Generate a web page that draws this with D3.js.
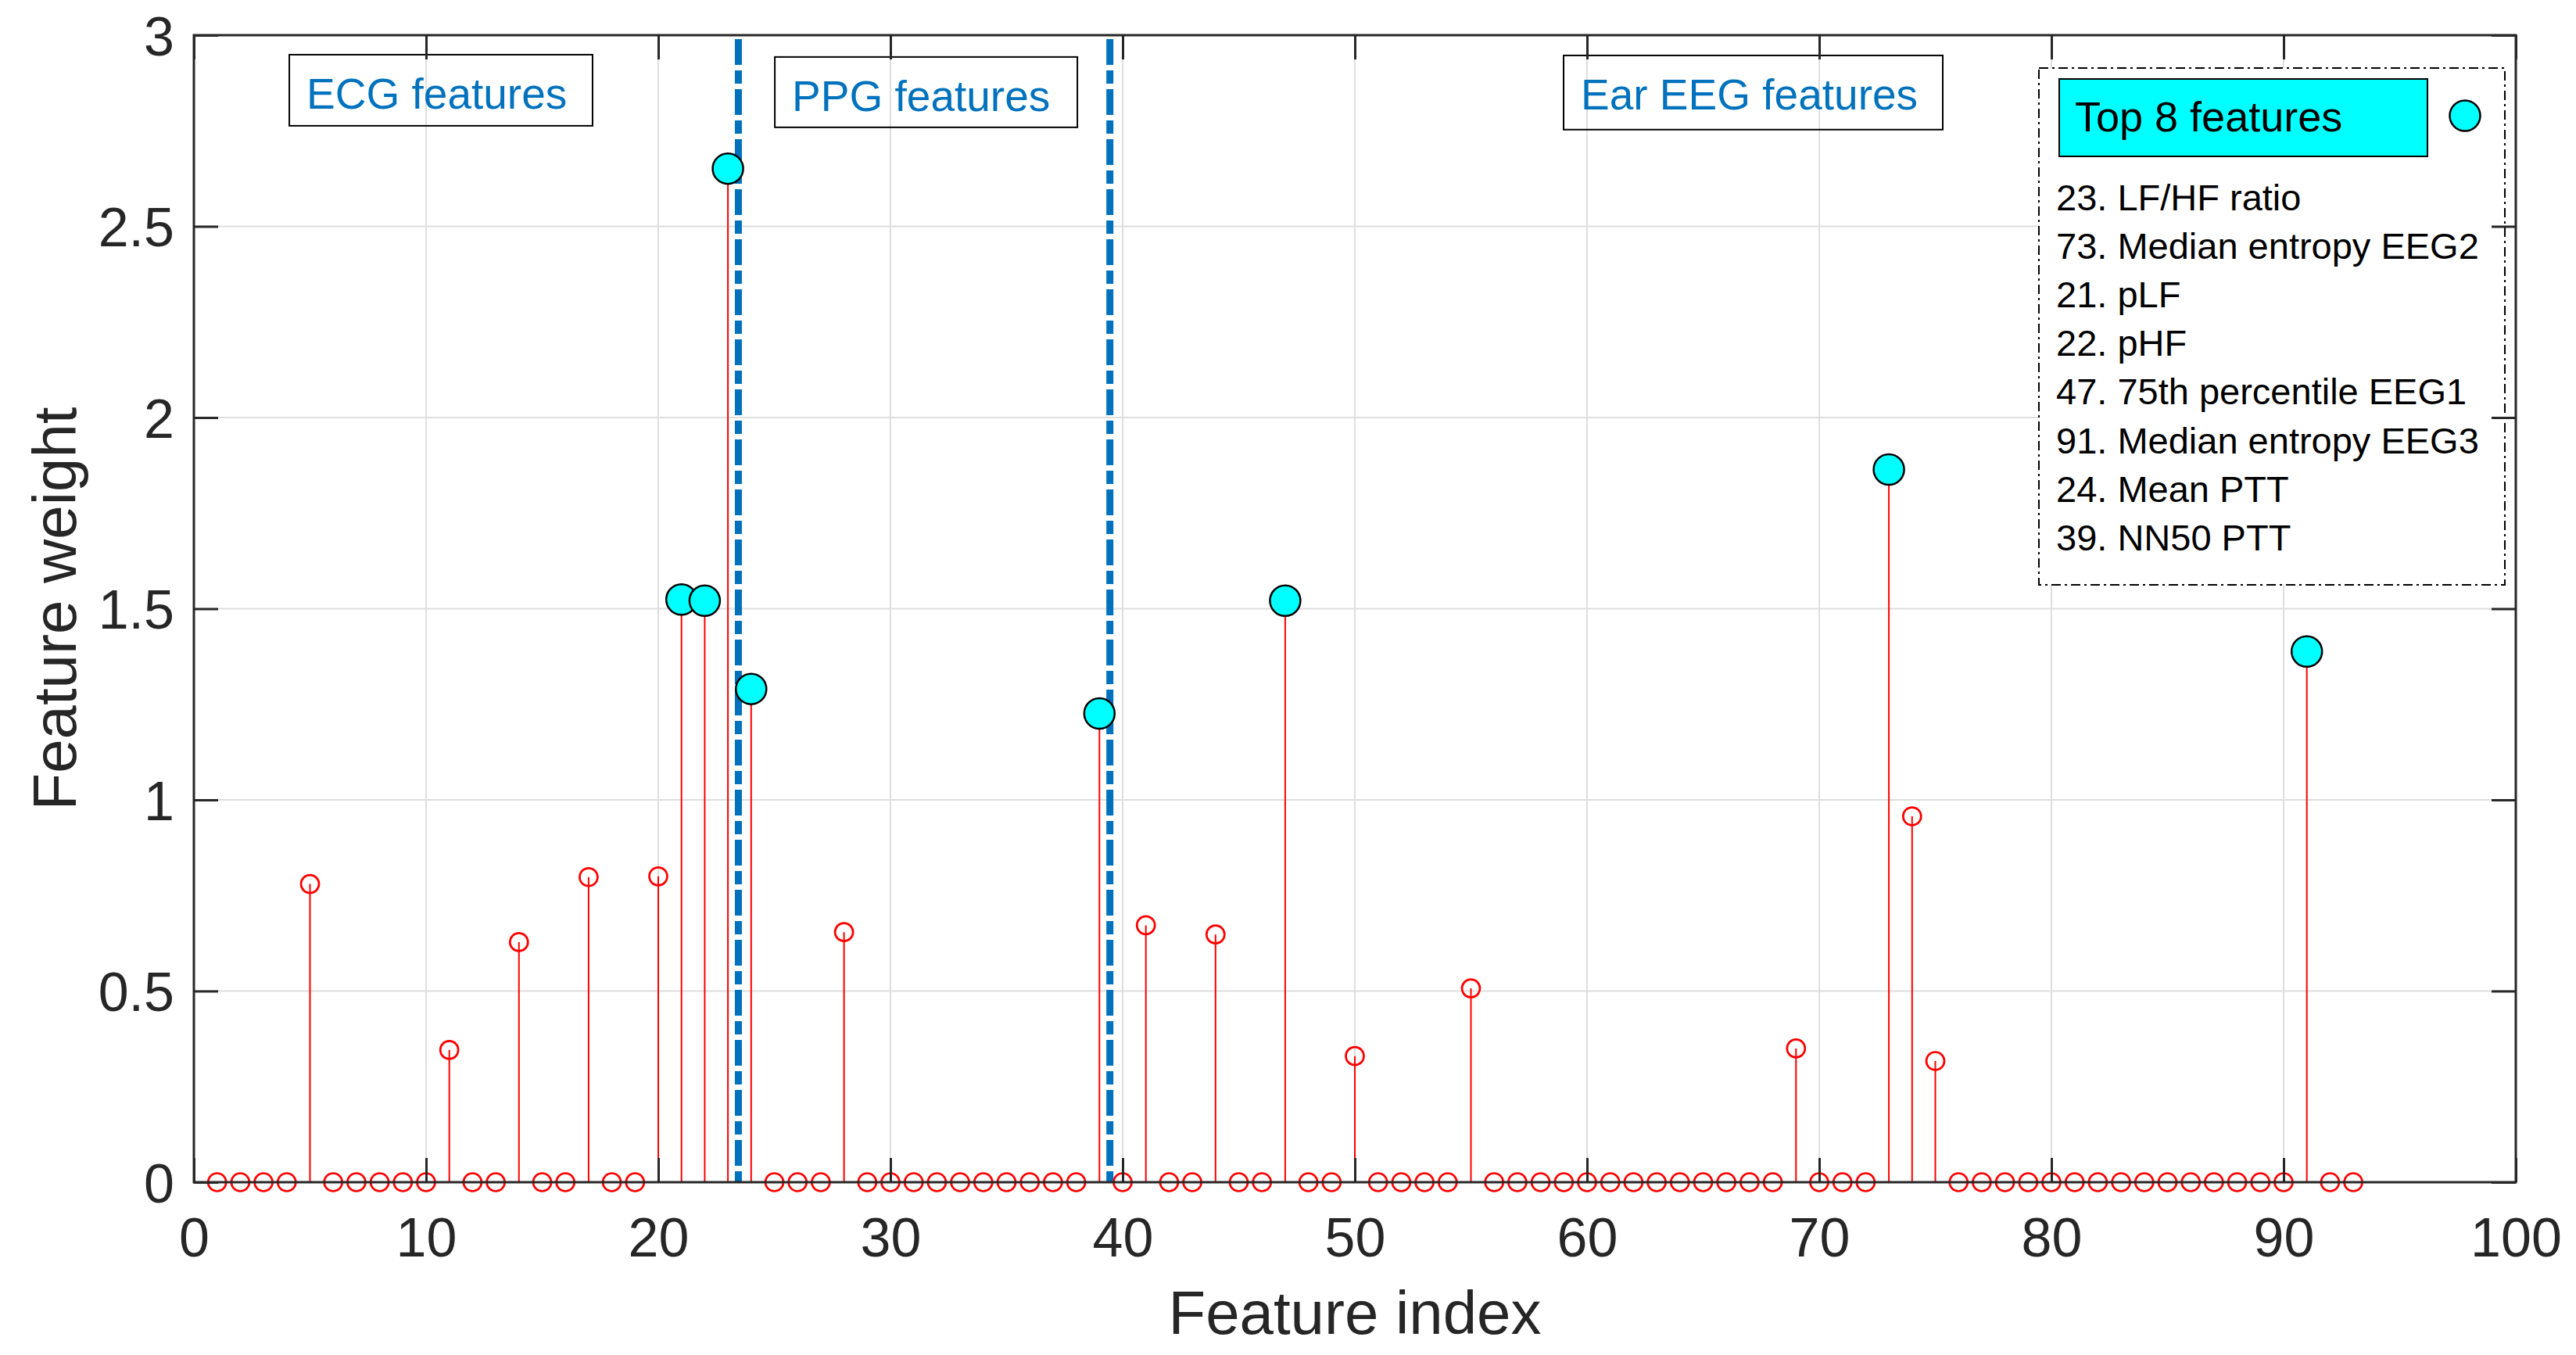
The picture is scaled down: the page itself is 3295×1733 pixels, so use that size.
<!DOCTYPE html>
<html>
<head>
<meta charset="utf-8">
<script src="https://cdn.jsdelivr.net/npm/d3@7"></script>
<style>
  html, body { margin: 0; padding: 0; background: #fff; }
  svg { display: block; font-family: "Liberation Sans", Arial, Helvetica, sans-serif; }
</style>
</head>
<body>
<svg id="chart" width="3295" height="1733"></svg>
<script>
// ---------------- data ----------------
const featureIndex = [
  1,2,3,4,5,6,7,8,9,10,11,12,13,14,15,16,17,18,19,20,
  21,22,23,24,25,26,27,28,29,30,31,32,33,34,35,36,37,38,39,40,
  41,42,43,44,45,46,47,48,49,50,51,52,53,54,55,56,57,58,59,60,
  61,62,63,64,65,66,67,68,69,70,71,72,73,74,75,76,77,78,79,80,
  81,82,83,84,85,86,87,88,89,90,91,92,93
];
const featureWeight = [
  0,0,0,0,0.78,0,0,0,0,0,0.346,0,0,0.628,0,0,0.798,0,0,0.80,
  1.524,1.521,2.651,1.29,0,0,0,0.654,0,0,0,0,0,0,0,0,0,0,1.226,0,
  0.672,0,0,0.648,0,0,1.521,0,0,0.33,0,0,0,0,0.507,0,0,0,0,0,
  0,0,0,0,0,0,0,0,0.35,0,0,0,1.864,0.957,0.317,0,0,0,0,0,
  0,0,0,0,0,0,0,0,0,0,1.388,0,0
];
const topFeatures = [23, 73, 21, 22, 47, 91, 24, 39];
const topFeatureLabels = [
  "23. LF/HF ratio",
  "73. Median entropy EEG2",
  "21. pLF",
  "22. pHF",
  "47. 75th percentile EEG1",
  "91. Median entropy EEG3",
  "24. Mean PTT",
  "39. NN50 PTT"
];
const groupNames = ["ECG features", "PPG features", "Ear EEG features"];
const groupSeparators = [23.45, 39.45];
const xTicks = [0,10,20,30,40,50,60,70,80,90,100];
const yTicks = [0,0.5,1,1.5,2,2.5,3];
const xTickLabels = ["0","10","20","30","40","50","60","70","80","90","100"];
const yTickLabels = ["0","0.5","1","1.5","2","2.5","3"];
const legendTitle = "Top 8 features";
const xLabel = "Feature index";
const yLabel = "Feature weight";

// ---------------- layout ----------------
const W = 3295, H = 1733;
const L = 248, R = 3218, T = 45, B = 1512;
const x = d3.scaleLinear().domain([0, 100]).range([L, R]);
const y = d3.scaleLinear().domain([0, 3]).range([B, T]);

const svg = d3.select("#chart");
svg.append("rect").attr("width", W).attr("height", H).attr("fill", "#fff");

const axisColor = "#262626";
const tickLen = 31;

// grid
const grid = svg.append("g");
grid.selectAll(".gx").data(xTicks.slice(1, -1)).join("line")
  .attr("x1", d => x(d)).attr("x2", d => x(d))
  .attr("y1", T).attr("y2", B)
  .attr("stroke", "#dedede").attr("stroke-width", 2);
grid.selectAll(".gy").data(yTicks.slice(1, -1)).join("line")
  .attr("x1", L).attr("x2", R)
  .attr("y1", d => y(d)).attr("y2", d => y(d))
  .attr("stroke", "#dedede").attr("stroke-width", 2);

// group separators (dash-dot)
svg.append("g").selectAll("line").data(groupSeparators).join("line")
  .attr("x1", d => x(d)).attr("x2", d => x(d))
  .attr("y1", y(2.99)).attr("y2", y(0))
  .attr("stroke", "#0072BD").attr("stroke-width", 9)
  .attr("stroke-dasharray", "33,7,17,7");

// group label boxes
const groupBoxes = [
  { x0: 4.11, x1: 17.17, y0: 2.949, y1: 2.763 },
  { x0: 25.02, x1: 38.05, y0: 2.943, y1: 2.759 },
  { x0: 58.99, x1: 75.32, y0: 2.947, y1: 2.753 }
];
const gl = svg.append("g");
groupNames.forEach((name, i) => {
  const b = groupBoxes[i];
  gl.append("rect")
    .attr("x", x(b.x0)).attr("y", y(b.y0))
    .attr("width", x(b.x1) - x(b.x0)).attr("height", y(b.y1) - y(b.y0))
    .attr("fill", "none").attr("stroke", "#000").attr("stroke-width", 2);
  gl.append("text")
    .attr("x", x(b.x0) + 22).attr("y", y(b.y0) + 69)
    .attr("font-size", 55).attr("fill", "#0072BD")
    .text(name);
});

// stems
const pts = featureIndex.map((f, i) => ({ f, w: featureWeight[i], top: topFeatures.includes(f) }));
svg.append("g").selectAll("line").data(pts.filter(d => d.w > 0)).join("line")
  .attr("x1", d => x(d.f)).attr("x2", d => x(d.f))
  .attr("y1", y(0)).attr("y2", d => y(d.w))
  .attr("stroke", "#ff0000").attr("stroke-width", 2);

// red open markers
svg.append("g").selectAll("circle").data(pts.filter(d => !d.top)).join("circle")
  .attr("cx", d => x(d.f)).attr("cy", d => y(d.w)).attr("r", 11.5)
  .attr("fill", "none").attr("stroke", "#ff0000").attr("stroke-width", 2.7);

// top-8 markers
svg.append("g").selectAll("circle").data(pts.filter(d => d.top)).join("circle")
  .attr("cx", d => x(d.f)).attr("cy", d => y(d.w)).attr("r", 19.5)
  .attr("fill", "#00ffff").attr("stroke", "#000").attr("stroke-width", 2.5);

// legend
const lg = svg.append("g");
const lgX0 = R - 610, lgX1 = R - 14, lgY0 = T + 42, lgY1 = T + 703;
lg.append("rect").attr("x", lgX0).attr("y", lgY0)
  .attr("width", lgX1 - lgX0).attr("height", lgY1 - lgY0)
  .attr("fill", "#fff").attr("stroke", "#000").attr("stroke-width", 2)
  .attr("stroke-dasharray", "12,5,3,5");
lg.append("rect").attr("x", lgX0 + 26).attr("y", lgY0 + 14)
  .attr("width", 471).attr("height", 99)
  .attr("fill", "#00ffff").attr("stroke", "#000").attr("stroke-width", 2);
lg.append("text").attr("x", lgX0 + 46).attr("y", lgY0 + 81)
  .attr("font-size", 54).attr("fill", "#000").text(legendTitle);
lg.append("circle").attr("cx", lgX0 + 545).attr("cy", lgY0 + 61).attr("r", 19.5)
  .attr("fill", "#00ffff").attr("stroke", "#000").attr("stroke-width", 2.5);
lg.selectAll(".item").data(topFeatureLabels).join("text")
  .attr("x", lgX0 + 22).attr("y", (d, i) => lgY0 + 182 + i * 62.1)
  .attr("font-size", 47).attr("fill", "#000").text(d => d);

// frame & ticks
const fr = svg.append("g");
fr.append("rect").attr("x", L).attr("y", T).attr("width", R - L).attr("height", B - T)
  .attr("fill", "none").attr("stroke", axisColor).attr("stroke-width", 3);

const xAxisB = d3.axisBottom(x).tickValues(xTicks).tickSizeInner(-tickLen).tickSizeOuter(0)
  .tickFormat((d, i) => xTickLabels[i]);
const gxb = fr.append("g").attr("transform", `translate(0,${B})`).call(xAxisB);
const xAxisT = d3.axisTop(x).tickValues(xTicks).tickSizeInner(-tickLen).tickSizeOuter(0).tickFormat("");
const gxt = fr.append("g").attr("transform", `translate(0,${T})`).call(xAxisT);
const yAxisL = d3.axisLeft(y).tickValues(yTicks).tickSizeInner(-tickLen).tickSizeOuter(0).tickPadding(25)
  .tickFormat((d, i) => yTickLabels[i]);
const gyl = fr.append("g").attr("transform", `translate(${L},0)`).call(yAxisL);
const yAxisR = d3.axisRight(y).tickValues(yTicks).tickSizeInner(-tickLen).tickSizeOuter(0).tickFormat("");
const gyr = fr.append("g").attr("transform", `translate(${R},0)`).call(yAxisR);

[gxb, gxt, gyl, gyr].forEach(g => {
  g.select(".domain").remove();
  g.selectAll(".tick line").attr("stroke", axisColor).attr("stroke-width", 3);
  g.selectAll(".tick text").attr("fill", axisColor).attr("font-size", 70)
    .attr("font-family", "'Liberation Sans', Arial, Helvetica, sans-serif");
});
gxb.selectAll(".tick text").attr("dy", null).attr("y", 95);
gyl.selectAll(".tick text").attr("dy", "0.36em");

// axis labels
svg.append("text").attr("x", (L + R) / 2).attr("y", 1706)
  .attr("text-anchor", "middle").attr("font-size", 78).attr("fill", axisColor).text(xLabel);
svg.append("text").attr("transform", `translate(97,${(T + B) / 2}) rotate(-90)`)
  .attr("text-anchor", "middle").attr("font-size", 78).attr("fill", axisColor).text(yLabel);
</script>
</body>
</html>
